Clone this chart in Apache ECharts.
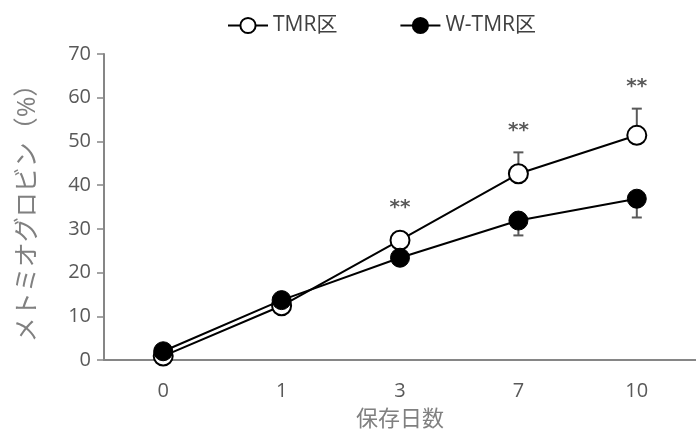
<!DOCTYPE html>
<html>
<head>
<meta charset="utf-8">
<script src="https://cdn.jsdelivr.net/npm/echarts@6/dist/echarts.min.js"></script>
<style>
  html, body { margin: 0; padding: 0; background: #fff; }
  #main { width: 696px; height: 436px; }
</style>
</head>
<body>
<div id="main"></div>
<script>
const days = ['0', '1', '3', '7', '10']
const tmr = [0.9, 12.4, 27.4, 42.6, 51.4]
const tmrErr = [0, 0, 0, 4.9, 6.1]
const wtmr = [2.0, 13.7, 23.4, 31.9, 36.9]
const wtmrErr = [0, 0, 0, 3.4, 4.3]
const sig = ['', '', '**', '**', '**']
const yTicks = [0, 10, 20, 30, 40, 50, 60, 70]

const chart = echarts.init(document.getElementById('main'))

const errData = []
days.forEach((d, i) => {
  errData.push([i, tmr[i], tmr[i] + tmrErr[i]])
  errData.push([i, wtmr[i], wtmr[i] - wtmrErr[i]])
})

// star sits above the highest of marker / upper error bar
const sigData = days.map((d, i) => [i, tmr[i], tmr[i] + tmrErr[i], sig[i]])

chart.setOption({
  animation: false,
  textStyle: { fontFamily: 'Open Sans, Noto Sans CJK JP, sans-serif' },
  legend: {
    top: 10,
    left: 222,
    itemGap: 62,
    itemWidth: 40,
    itemHeight: 19,
    textStyle: { fontSize: 21, color: '#404040' },
    data: ['TMR区', 'W-TMR区']
  },
  grid: { left: 104, width: 602, top: 54, bottom: 74 },
  xAxis: {
    type: 'category',
    data: days,
    name: '保存日数',
    nameLocation: 'middle',
    nameGap: 49,
    nameTextStyle: { fontSize: 22, color: '#808080' },
    axisLine: { lineStyle: { color: '#868686', width: 2 } },
    axisTick: { show: false },
    axisLabel: { fontSize: 20, color: '#595959', margin: 21 }
  },
  yAxis: {
    type: 'value',
    min: yTicks[0],
    max: yTicks[yTicks.length - 1],
    interval: 10,
    name: 'メトミオグロビン（%）',
    nameLocation: 'middle',
    nameGap: 64,
    nameTextStyle: { fontSize: 25, color: '#808080' },
    axisLine: { show: true, lineStyle: { color: '#868686', width: 2 } },
    axisTick: { show: true, length: 7, lineStyle: { color: '#868686', width: 1.5 } },
    axisLabel: { fontSize: 20, color: '#595959', margin: 13 },
    splitLine: { show: false }
  },
  series: [
    {
      type: 'custom',
      z: 1,
      silent: true,
      data: errData,
      renderItem: (params, api) => {
        const p0 = api.coord([api.value(0), api.value(1)])
        const p1 = api.coord([api.value(0), api.value(2)])
        if (Math.abs(p0[1] - p1[1]) < 1) return null
        const style = { stroke: '#595959', lineWidth: 2 }
        return {
          type: 'group',
          children: [
            { type: 'line', shape: { x1: p0[0], y1: p0[1], x2: p1[0], y2: p1[1] }, style },
            { type: 'line', shape: { x1: p1[0] - 5, y1: p1[1], x2: p1[0] + 5, y2: p1[1] }, style }
          ]
        }
      }
    },
    {
      name: 'TMR区',
      type: 'line',
      z: 2,
      data: tmr,
      symbol: 'circle',
      symbolSize: 19,
      lineStyle: { color: '#000', width: 2 },
      itemStyle: { color: '#fff', borderColor: '#000', borderWidth: 2 }
    },
    {
      name: 'W-TMR区',
      type: 'line',
      z: 3,
      data: wtmr,
      symbol: 'circle',
      symbolSize: 19,
      lineStyle: { color: '#000', width: 2 },
      itemStyle: { color: '#000', borderColor: '#000', borderWidth: 1 }
    },
    {
      type: 'custom',
      z: 4,
      silent: true,
      data: sigData,
      renderItem: (params, api) => {
        const label = sigData[params.dataIndex][3]
        if (!label) return null
        const pm = api.coord([api.value(0), api.value(1)])
        const pe = api.coord([api.value(0), api.value(2)])
        const top = Math.min(pm[1] - 10, pe[1])
        return {
          type: 'text',
          style: {
            x: pm[0],
            y: top - 22,
            text: label,
            fill: '#595959',
            font: 'bold 20px DejaVu Sans',
            align: 'center',
            verticalAlign: 'middle'
          }
        }
      }
    }
  ]
})
</script>
</body>
</html>
